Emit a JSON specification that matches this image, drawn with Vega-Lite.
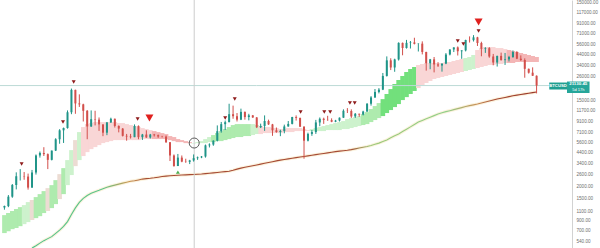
{
  "$schema": "https://vega.github.io/schema/vega-lite/v6.json",
  "width": 572,
  "height": 248,
  "autosize": "none",
  "padding": {"left": 0, "top": 0, "right": 28, "bottom": 0},
  "background": "#ffffff",
  "config": {"view": {"stroke": null}, "font": "Liberation Sans"},
  "datasets": {
    "weeks": [
      {"d":"2017-04-10","o":1208,"h":1265,"l":1150,"c":1250,"hi":1012,"lo":664,"t":"g2"},
      {"d":"2017-04-24","o":1250,"h":1620,"l":1220,"c":1560,"hi":1062,"lo":695,"t":"g2"},
      {"d":"2017-05-08","o":1560,"h":2100,"l":1520,"c":2050,"hi":1114,"lo":728,"t":"g2"},
      {"d":"2017-05-22","o":2050,"h":2760,"l":1850,"c":2520,"hi":1165,"lo":746,"t":"g2"},
      {"d":"2017-06-05","o":2520,"h":2980,"l":2280,"c":2520,"hi":1221,"lo":781,"t":"g2"},
      {"d":"2017-06-19","o":2520,"h":2780,"l":2320,"c":2500,"hi":1280,"lo":819,"t":"g1"},
      {"d":"2017-07-03","o":2500,"h":2680,"l":1840,"c":1930,"hi":1374,"lo":859,"t":"g1"},
      {"d":"2017-07-17","o":1930,"h":2920,"l":1920,"c":2750,"hi":1440,"lo":900,"t":"p","m":467},
      {"d":"2017-07-31","o":2750,"h":4200,"l":2620,"c":4100,"hi":1545,"lo":943,"t":"g2","m":494},
      {"d":"2017-08-14","o":4100,"h":4500,"l":3900,"c":4350,"hi":1656,"lo":988,"t":"g2","m":525},
      {"d":"2017-08-28","o":4350,"h":4980,"l":4050,"c":4230,"hi":1778,"lo":1062,"t":"g2","m":556},
      {"d":"2017-09-11","o":4230,"h":4300,"l":2980,"c":3700,"hi":1906,"lo":1114,"t":"p","m":583},
      {"d":"2017-09-25","o":3700,"h":4600,"l":3650,"c":4600,"hi":2045,"lo":1193,"t":"g2","m":611},
      {"d":"2017-10-09","o":4600,"h":6150,"l":4550,"c":6000,"hi":2300,"lo":1310,"t":"g2","m":659},
      {"d":"2017-10-23","o":6000,"h":7600,"l":5400,"c":7400,"hi":2648,"lo":1474,"t":"p","m":712},
      {"d":"2017-11-06","o":7400,"h":7890,"l":5500,"c":7800,"hi":3048,"lo":1656,"t":"g2","m":776},
      {"d":"2017-11-20","o":7800,"h":11800,"l":7700,"c":11300,"hi":3680,"lo":2045,"t":"g1","m":869},
      {"d":"2017-12-04","o":11300,"h":19700,"l":10800,"c":19100,"hi":4650,"lo":2590,"t":"g1","m":1025},
      {"d":"2017-12-18","o":19100,"h":19200,"l":10900,"c":13900,"hi":5880,"lo":3194,"t":"p","m":1200},
      {"d":"2018-01-01","o":13900,"h":17200,"l":12800,"c":13600,"hi":7098,"lo":3680,"t":"g1","m":1364},
      {"d":"2018-01-15","o":13600,"h":13800,"l":9100,"c":11700,"hi":7985,"lo":4044,"t":"r1","m":1499},
      {"d":"2018-01-29","o":11700,"h":11900,"l":6000,"c":8100,"hi":8563,"lo":4436,"t":"r1","m":1605},
      {"d":"2018-02-12","o":8100,"h":11800,"l":8000,"c":9600,"hi":8770,"lo":4759,"t":"r1","m":1688},
      {"d":"2018-02-26","o":9600,"h":11700,"l":8300,"c":9500,"hi":8977,"lo":4989,"t":"r1","m":1752},
      {"d":"2018-03-12","o":9500,"h":10000,"l":7300,"c":8500,"hi":8977,"lo":5230,"t":"r1","m":1812},
      {"d":"2018-03-26","o":8500,"h":8500,"l":6450,"c":7000,"hi":8977,"lo":5480,"t":"r1","m":1880},
      {"d":"2018-04-09","o":7000,"h":9000,"l":6600,"c":8900,"hi":8977,"lo":5610,"t":"r1","m":1946},
      {"d":"2018-04-23","o":8900,"h":9950,"l":8800,"c":9700,"hi":8977,"lo":5744,"t":"r1","m":1998},
      {"d":"2018-05-07","o":9700,"h":9750,"l":7900,"c":8200,"hi":8977,"lo":5880,"t":"r1","m":2045},
      {"d":"2018-05-21","o":8200,"h":8300,"l":7050,"c":7700,"hi":8770,"lo":5880,"t":"r1","m":2094},
      {"d":"2018-06-04","o":7700,"h":7800,"l":6400,"c":6500,"hi":8770,"lo":5880,"t":"r1","m":2143},
      {"d":"2018-06-18","o":6500,"h":6800,"l":5800,"c":6400,"hi":8563,"lo":5880,"t":"r1","m":2192},
      {"d":"2018-07-02","o":6400,"h":6800,"l":6100,"c":6300,"hi":8370,"lo":5880,"t":"r1","m":2238},
      {"d":"2018-07-16","o":6300,"h":8500,"l":6300,"c":8200,"hi":8176,"lo":5880,"t":"r1","m":2269},
      {"d":"2018-07-30","o":8200,"h":8300,"l":6000,"c":6300,"hi":7985,"lo":5880,"t":"r1","m":2311},
      {"d":"2018-08-13","o":6300,"h":6800,"l":5900,"c":6700,"hi":7801,"lo":6024,"t":"r1","m":2357},
      {"d":"2018-08-27","o":6700,"h":7400,"l":6200,"c":6250,"hi":7617,"lo":6024,"t":"r1","m":2380},
      {"d":"2018-09-10","o":6250,"h":6800,"l":6100,"c":6700,"hi":7440,"lo":6024,"t":"r1","m":2402},
      {"d":"2018-09-24","o":6700,"h":6800,"l":6400,"c":6600,"hi":7267,"lo":6024,"t":"r2","m":2430},
      {"d":"2018-10-08","o":6600,"h":6700,"l":6200,"c":6400,"hi":7098,"lo":6024,"t":"r2","m":2465},
      {"d":"2018-10-22","o":6400,"h":6500,"l":6250,"c":6380,"hi":6934,"lo":6024,"t":"r2","m":2500},
      {"d":"2018-11-05","o":6380,"h":6550,"l":5500,"c":5600,"hi":6774,"lo":6024,"t":"r2","m":2525},
      {"d":"2018-11-19","o":5600,"h":5600,"l":3600,"c":4100,"hi":6466,"lo":5880,"t":"r2","m":2547},
      {"d":"2018-12-03","o":4100,"h":4200,"l":3150,"c":3200,"hi":6315,"lo":5744,"t":"r2","m":2566},
      {"d":"2018-12-17","o":3200,"h":4250,"l":3200,"c":3900,"hi":6024,"lo":5610,"t":"r2","m":2578},
      {"d":"2018-12-31","o":3900,"h":4100,"l":3500,"c":3550,"hi":5880,"lo":5610,"t":"r2","m":2590},
      {"d":"2019-01-14","o":3550,"h":3800,"l":3450,"c":3530,"hi":5744,"lo":5480,"t":"r2","m":2602},
      {"d":"2019-01-28","o":3530,"h":3700,"l":3350,"c":3650,"hi":5610,"lo":5480,"t":"r2","m":2615},
      {"d":"2019-02-11","o":3650,"h":4200,"l":3550,"c":3850,"hi":5480,"lo":5420,"t":"g1","m":2627},
      {"d":"2019-02-25","o":3850,"h":4000,"l":3700,"c":3920,"hi":5610,"lo":5480,"t":"g1","m":2639},
      {"d":"2019-03-11","o":3920,"h":4050,"l":3850,"c":4000,"hi":5744,"lo":5480,"t":"g1","m":2652},
      {"d":"2019-03-25","o":4000,"h":5300,"l":3900,"c":5200,"hi":6024,"lo":5480,"t":"g1","m":2677},
      {"d":"2019-04-08","o":5200,"h":5450,"l":4950,"c":5300,"hi":6315,"lo":5610,"t":"g1","m":2702},
      {"d":"2019-04-22","o":5300,"h":5850,"l":5150,"c":5800,"hi":6620,"lo":5610,"t":"g2","m":2728},
      {"d":"2019-05-06","o":5800,"h":8300,"l":5700,"c":7250,"hi":6934,"lo":5744,"t":"g2","m":2754},
      {"d":"2019-05-20","o":7250,"h":9000,"l":7000,"c":8550,"hi":7267,"lo":5744,"t":"g2","m":2780},
      {"d":"2019-06-03","o":8550,"h":9300,"l":7450,"c":8950,"hi":7617,"lo":5880,"t":"g2","m":2806},
      {"d":"2019-06-17","o":8950,"h":13800,"l":8950,"c":10800,"hi":7985,"lo":6024,"t":"g2","m":2833},
      {"d":"2019-07-01","o":10800,"h":13200,"l":9700,"c":10300,"hi":8370,"lo":6170,"t":"g2","m":2896},
      {"d":"2019-07-15","o":10300,"h":11100,"l":9100,"c":9500,"hi":8563,"lo":6315,"t":"g2","m":2976},
      {"d":"2019-07-29","o":9500,"h":12300,"l":9400,"c":11400,"hi":8563,"lo":6315,"t":"g2","m":3047},
      {"d":"2019-08-12","o":11400,"h":11500,"l":9500,"c":10100,"hi":8563,"lo":6466,"t":"g2","m":3106},
      {"d":"2019-08-26","o":10100,"h":10900,"l":9350,"c":10500,"hi":8563,"lo":6466,"t":"g2","m":3165},
      {"d":"2019-09-09","o":10500,"h":10600,"l":9900,"c":10000,"hi":8563,"lo":6620,"t":"g1","m":3224},
      {"d":"2019-09-23","o":10000,"h":10100,"l":7800,"c":7950,"hi":8370,"lo":6774,"t":"g1","m":3285},
      {"d":"2019-10-07","o":7950,"h":8650,"l":7800,"c":8200,"hi":8176,"lo":6774,"t":"r1","m":3348},
      {"d":"2019-10-21","o":8200,"h":10500,"l":7300,"c":9200,"hi":7985,"lo":6934,"t":"r1","m":3412},
      {"d":"2019-11-04","o":9200,"h":9500,"l":8400,"c":8500,"hi":7985,"lo":6934,"t":"r1","m":3477},
      {"d":"2019-11-18","o":8500,"h":8600,"l":6500,"c":7400,"hi":7801,"lo":6934,"t":"r1","m":3544},
      {"d":"2019-12-02","o":7400,"h":7900,"l":7000,"c":7100,"hi":7801,"lo":6934,"t":"r1","m":3612},
      {"d":"2019-12-16","o":7100,"h":7500,"l":6450,"c":7300,"hi":7617,"lo":6934,"t":"r1","m":3680},
      {"d":"2019-12-30","o":7300,"h":8450,"l":6900,"c":8100,"hi":7617,"lo":7098,"t":"r1","m":3733},
      {"d":"2020-01-13","o":8100,"h":9200,"l":8050,"c":8600,"hi":7801,"lo":7098,"t":"r1","m":3787},
      {"d":"2020-01-27","o":8600,"h":10150,"l":8500,"c":10100,"hi":7801,"lo":7098,"t":"r1","m":3841},
      {"d":"2020-02-10","o":10100,"h":10500,"l":9300,"c":9900,"hi":7801,"lo":7267,"t":"r1","m":3896},
      {"d":"2020-02-24","o":9900,"h":9950,"l":8000,"c":8050,"hi":7801,"lo":7267,"t":"r1","m":3952},
      {"d":"2020-03-09","o":8050,"h":8150,"l":3800,"c":5800,"hi":7617,"lo":7267,"t":"r1","m":4009},
      {"d":"2020-03-23","o":5800,"h":7000,"l":5700,"c":6800,"hi":7440,"lo":7267,"t":"r1","m":4066},
      {"d":"2020-04-06","o":6800,"h":7450,"l":6500,"c":7100,"hi":7617,"lo":7267,"t":"g1","m":4125},
      {"d":"2020-04-20","o":7100,"h":9450,"l":6800,"c":8900,"hi":7801,"lo":7267,"t":"g1","m":4184},
      {"d":"2020-05-04","o":8900,"h":10000,"l":8150,"c":9700,"hi":7985,"lo":7267,"t":"g1","m":4240},
      {"d":"2020-05-18","o":9700,"h":9950,"l":8600,"c":9450,"hi":8176,"lo":7267,"t":"g1","m":4300},
      {"d":"2020-06-01","o":9450,"h":10400,"l":9250,"c":9400,"hi":8370,"lo":7440,"t":"g1","m":4362},
      {"d":"2020-06-15","o":9400,"h":9800,"l":8950,"c":9050,"hi":8563,"lo":7440,"t":"g1","m":4425},
      {"d":"2020-06-29","o":9050,"h":9450,"l":8950,"c":9300,"hi":8770,"lo":7440,"t":"g1","m":4488},
      {"d":"2020-07-13","o":9300,"h":10000,"l":9100,"c":9950,"hi":8977,"lo":7440,"t":"g1","m":4542},
      {"d":"2020-07-27","o":9950,"h":12100,"l":9900,"c":11700,"hi":9190,"lo":7617,"t":"g1","m":4585},
      {"d":"2020-08-10","o":11700,"h":12450,"l":11100,"c":11650,"hi":9628,"lo":7617,"t":"g1","m":4628},
      {"d":"2020-08-24","o":11650,"h":12100,"l":9900,"c":10250,"hi":9861,"lo":7801,"t":"g1","m":4700},
      {"d":"2020-09-07","o":10250,"h":11100,"l":9900,"c":10900,"hi":10090,"lo":7985,"t":"g1","m":4787},
      {"d":"2020-09-21","o":10900,"h":10950,"l":10150,"c":10700,"hi":10335,"lo":8176,"t":"g1","m":4877},
      {"d":"2020-10-05","o":10700,"h":11700,"l":10500,"c":11500,"hi":10830,"lo":8370,"t":"g2","m":4970},
      {"d":"2020-10-19","o":11500,"h":14000,"l":11400,"c":13800,"hi":11350,"lo":8563,"t":"g2","m":5063},
      {"d":"2020-11-02","o":13800,"h":16500,"l":13200,"c":16000,"hi":12180,"lo":8977,"t":"g2","m":5180},
      {"d":"2020-11-16","o":16000,"h":19500,"l":15800,"c":18200,"hi":13070,"lo":9410,"t":"g2","m":5330},
      {"d":"2020-11-30","o":18200,"h":19900,"l":17600,"c":19200,"hi":14020,"lo":9861,"t":"g2","m":5480},
      {"d":"2020-12-14","o":19200,"h":28400,"l":19000,"c":26500,"hi":15380,"lo":10335,"t":"g3","m":5690},
      {"d":"2020-12-28","o":26500,"h":41900,"l":26100,"c":38200,"hi":17340,"lo":11090,"t":"g3","m":5910},
      {"d":"2021-01-11","o":38200,"h":40100,"l":30400,"c":32300,"hi":19470,"lo":11900,"t":"g3","m":6213},
      {"d":"2021-01-25","o":32300,"h":39700,"l":29200,"c":39000,"hi":21930,"lo":12760,"t":"g3","m":6497},
      {"d":"2021-02-08","o":39000,"h":58300,"l":38000,"c":57500,"hi":24100,"lo":13690,"t":"g3","m":6780},
      {"d":"2021-02-22","o":57500,"h":58000,"l":43000,"c":51000,"hi":26470,"lo":15040,"t":"g3","m":7180},
      {"d":"2021-03-08","o":51000,"h":61700,"l":50300,"c":57600,"hi":29050,"lo":16120,"t":"g3","m":7580},
      {"d":"2021-03-22","o":57600,"h":60100,"l":50400,"c":58200,"hi":31170,"lo":17340,"t":"g3","m":8020},
      {"d":"2021-04-05","o":58200,"h":64900,"l":55500,"c":56200,"hi":32680,"lo":18610,"t":"g3","m":8490},
      {"d":"2021-04-19","o":56200,"h":57000,"l":47000,"c":56500,"hi":34250,"lo":19940,"t":"r1","m":8977},
      {"d":"2021-05-03","o":56500,"h":59600,"l":43900,"c":46500,"hi":35050,"lo":21400,"t":"r1","m":9320},
      {"d":"2021-05-17","o":46500,"h":46700,"l":30000,"c":35700,"hi":35900,"lo":22460,"t":"r1","m":9680},
      {"d":"2021-05-31","o":35700,"h":39500,"l":31000,"c":39100,"hi":35900,"lo":23540,"t":"r1","m":10060},
      {"d":"2021-06-14","o":39100,"h":41300,"l":28800,"c":34700,"hi":35900,"lo":24660,"t":"r1","m":10440},
      {"d":"2021-06-28","o":34700,"h":36600,"l":32700,"c":33800,"hi":35900,"lo":25260,"t":"r1","m":10830},
      {"d":"2021-07-12","o":33800,"h":35400,"l":29300,"c":35400,"hi":35900,"lo":25850,"t":"r1","m":11150},
      {"d":"2021-07-26","o":35400,"h":45300,"l":34900,"c":43800,"hi":36730,"lo":26470,"t":"r1","m":11470},
      {"d":"2021-08-09","o":43800,"h":49400,"l":42900,"c":49300,"hi":36730,"lo":27100,"t":"r1","m":11730},
      {"d":"2021-08-23","o":49300,"h":51800,"l":46400,"c":51750,"hi":37610,"lo":27710,"t":"r1","m":12020},
      {"d":"2021-09-06","o":51750,"h":52900,"l":42800,"c":47300,"hi":38500,"lo":28380,"t":"r1","m":12310},
      {"d":"2021-09-20","o":47300,"h":48400,"l":39600,"c":48200,"hi":39400,"lo":29050,"t":"r1","m":12600},
      {"d":"2021-10-04","o":48200,"h":62000,"l":47100,"c":61500,"hi":40350,"lo":29740,"t":"g1","m":12910},
      {"d":"2021-10-18","o":61500,"h":67000,"l":58000,"c":61300,"hi":41310,"lo":30450,"t":"g1","m":13200},
      {"d":"2021-11-01","o":61300,"h":69000,"l":59400,"c":65500,"hi":43300,"lo":31170,"t":"g1","m":13450},
      {"d":"2021-11-15","o":65500,"h":66300,"l":53500,"c":57300,"hi":48700,"lo":31920,"t":"r1","m":13700},
      {"d":"2021-11-29","o":57300,"h":59100,"l":42000,"c":50100,"hi":50980,"lo":32680,"t":"r1","m":14020},
      {"d":"2021-12-13","o":50100,"h":52000,"l":45500,"c":50800,"hi":52180,"lo":33460,"t":"r1","m":14360},
      {"d":"2021-12-27","o":50800,"h":52100,"l":40600,"c":41800,"hi":52180,"lo":34250,"t":"r1","m":14700},
      {"d":"2022-01-10","o":41800,"h":44400,"l":34000,"c":36300,"hi":52180,"lo":34250,"t":"r1","m":15040},
      {"d":"2022-01-24","o":36300,"h":42600,"l":33000,"c":42400,"hi":50980,"lo":35050,"t":"r1","m":15400},
      {"d":"2022-02-07","o":42400,"h":45800,"l":38000,"c":38400,"hi":50980,"lo":35050,"t":"r1","m":15700},
      {"d":"2022-02-21","o":38400,"h":45400,"l":34300,"c":39100,"hi":49780,"lo":35900,"t":"r1","m":16000},
      {"d":"2022-03-07","o":39100,"h":42400,"l":37200,"c":41300,"hi":48700,"lo":35900,"t":"r2","m":16310},
      {"d":"2022-03-21","o":41300,"h":48200,"l":40500,"c":46400,"hi":47570,"lo":35900,"t":"r2","m":16620},
      {"d":"2022-04-04","o":46400,"h":47400,"l":39300,"c":39700,"hi":46460,"lo":36730,"t":"r2","m":16900},
      {"d":"2022-04-18","o":39700,"h":42900,"l":37700,"c":38500,"hi":45380,"lo":36730,"t":"r2","m":17150},
      {"d":"2022-05-02","o":38500,"h":40000,"l":25400,"c":31300,"hi":44320,"lo":36730,"t":"r2","m":17400},
      {"d":"2022-05-16","o":31300,"h":31500,"l":28000,"c":28600,"hi":43300,"lo":36730,"t":"r2","m":17640},
      {"d":"2022-05-30","o":28600,"h":32400,"l":26500,"c":26600,"hi":42300,"lo":36730,"t":"r2","m":17900},
      {"d":"2022-06-13","o":26600,"h":26800,"l":17600,"c":21130.45,"hi":41310,"lo":36730,"t":"r2","m":18160}
    ],
    "signals": [
      {"d":"2017-06-10","v":3350,"k":"s"},
      {"d":"2017-11-04","v":8980,"k":"s"},
      {"d":"2017-12-12","v":23000,"k":"s"},
      {"d":"2018-07-27","v":9640,"k":"s"},
      {"d":"2018-09-07","v":9860,"k":"b"},
      {"d":"2018-12-17","v":2775,"k":"u"},
      {"d":"2019-06-03","v":9860,"k":"s"},
      {"d":"2019-07-07","v":15400,"k":"s"},
      {"d":"2020-02-26","v":11350,"k":"s"},
      {"d":"2020-05-20","v":11350,"k":"s"},
      {"d":"2020-06-10","v":11350,"k":"s"},
      {"d":"2020-08-19","v":14010,"k":"s"},
      {"d":"2020-09-05","v":14010,"k":"s"},
      {"d":"2021-09-06","v":60200,"k":"s"},
      {"d":"2021-09-26","v":56000,"k":"s"},
      {"d":"2021-11-19","v":76000,"k":"s"},
      {"d":"2021-11-19","v":94000,"k":"b"}
    ]
  },
  "layer": [
    {
      "data": {"name": "weeks"},
      "mark": {"type": "bar", "size": 4.6},
      "encoding": {
        "x": {"field": "d", "type": "temporal", "axis": null,
              "scale": {"domain": [{"year": 2017, "month": 4, "date": 12, "utc": true}, {"year": 2022, "month": 9, "date": 29, "utc": true}]}},
        "y": {"field": "hi", "type": "quantitative", "title": null,
              "scale": {"type": "log", "domain": [468, 157300], "nice": false, "zero": false},
              "axis": {"orient": "right", "values": [540, 700, 900, 1100, 1500, 2000, 2600, 3400, 4400, 5600, 7100, 9100, 11700, 15000, 26000, 34000, 44000, 56000, 71000, 91000, 117000, 150000],
                       "format": ".2f", "labelFontSize": 4.6, "labelColor": "#6e6e6e", "ticks": false, "grid": false,
                       "domainColor": "#d2d2d2", "labelPadding": 4, "labelOverlap": false, "labelFont": "Liberation Sans"}},
        "y2": {"field": "lo"},
        "color": {"field": "t", "type": "nominal", "legend": null,
                  "scale": {"domain": ["g1", "g2", "g3", "p", "r1", "r2"],
                            "range": ["#cdf2cd", "#aeebae", "#72e07c", "#ecdcd3", "#f9d6d6", "#f4b6b6"]}}
      }
    },
    {
      "data": {"name": "weeks"},
      "transform": [{"filter": "isValid(datum.m)"}],
      "mark": {"type": "line", "strokeWidth": 3.2, "opacity": 0.3, "color": "#f3d58e", "clip": true},
      "encoding": {
        "x": {"field": "d", "type": "temporal"},
        "y": {"field": "m", "type": "quantitative", "title": null}
      }
    },
    {
      "data": {"name": "weeks"},
      "transform": [{"filter": "isValid(datum.m)"}],
      "mark": {"type": "line", "strokeWidth": 1.1, "clip": true,
               "color": {"gradient": "linear", "x1": 0, "y1": 0, "x2": 1, "y2": 0,
                         "stops": [
                           {"offset": 0, "color": "#4fc28a"},
                           {"offset": 0.14, "color": "#5cc58a"},
                           {"offset": 0.19, "color": "#c99a55"},
                           {"offset": 0.23, "color": "#a64b34"},
                           {"offset": 0.63, "color": "#a64b34"},
                           {"offset": 0.67, "color": "#9cc878"},
                           {"offset": 0.82, "color": "#8fd08a"},
                           {"offset": 0.88, "color": "#c8925a"},
                           {"offset": 0.92, "color": "#a3452f"},
                           {"offset": 1, "color": "#9c3a2c"}
                         ]}},
      "encoding": {
        "x": {"field": "d", "type": "temporal"},
        "y": {"field": "m", "type": "quantitative", "title": null}
      }
    },
    {
      "data": {"values": [{}]},
      "mark": {"type": "rule", "color": "#bcdad6", "strokeWidth": 1},
      "encoding": {"y": {"datum": 21130.45, "type": "quantitative"}}
    },
    {
      "data": {"values": [{}]},
      "mark": {"type": "rule", "color": "#cdcdcd", "strokeWidth": 1},
      "encoding": {"x": {"datum": {"year": 2019, "month": 2, "date": 13, "utc": true}, "type": "temporal"}}
    },
    {
      "data": {"name": "weeks"},
      "mark": {"type": "rule", "strokeWidth": 1},
      "encoding": {
        "x": {"field": "d", "type": "temporal"},
        "y": {"field": "l", "type": "quantitative", "title": null},
        "y2": {"field": "h"},
        "color": {"condition": {"test": "datum.c >= datum.o", "value": "#1f9488"}, "value": "#d24f4b"}
      }
    },
    {
      "data": {"name": "weeks"},
      "mark": {"type": "bar", "size": 2},
      "encoding": {
        "x": {"field": "d", "type": "temporal"},
        "y": {"field": "o", "type": "quantitative", "title": null},
        "y2": {"field": "c"},
        "color": {"condition": {"test": "datum.c >= datum.o", "value": "#1f9488"}, "value": "#d24f4b"}
      }
    },
    {
      "data": {"name": "signals"},
      "transform": [{"filter": "datum.k === 's'"}],
      "mark": {"type": "point", "shape": "triangle-down", "filled": true, "size": 16, "color": "#8e1b1b", "opacity": 1},
      "encoding": {
        "x": {"field": "d", "type": "temporal"},
        "y": {"field": "v", "type": "quantitative", "title": null}
      }
    },
    {
      "data": {"name": "signals"},
      "transform": [{"filter": "datum.k === 'b'"}],
      "mark": {"type": "point", "shape": "triangle-down", "filled": true, "size": 64, "color": "#e0201e", "opacity": 1},
      "encoding": {
        "x": {"field": "d", "type": "temporal"},
        "y": {"field": "v", "type": "quantitative", "title": null}
      }
    },
    {
      "data": {"name": "signals"},
      "transform": [{"filter": "datum.k === 'u'"}],
      "mark": {"type": "point", "shape": "triangle-up", "filled": true, "size": 16, "color": "#4caf50", "opacity": 1},
      "encoding": {
        "x": {"field": "d", "type": "temporal"},
        "y": {"field": "v", "type": "quantitative", "title": null}
      }
    },
    {
      "data": {"values": [{}]},
      "mark": {"type": "point", "shape": "circle", "filled": false, "size": 100, "stroke": "#5a5a5a", "strokeWidth": 1, "opacity": 1},
      "encoding": {
        "x": {"datum": {"year": 2019, "month": 2, "date": 13, "utc": true}, "type": "temporal"},
        "y": {"datum": 5490, "type": "quantitative"}
      }
    },
    {
      "data": {"values": [{}]},
      "mark": {"type": "rect", "color": "#1f9e90"},
      "encoding": {
        "x": {"datum": {"year": 2022, "month": 7, "date": 28, "utc": true}, "type": "temporal"},
        "x2": {"datum": {"year": 2022, "month": 9, "date": 29, "utc": true}},
        "y": {"datum": 22700, "type": "quantitative"},
        "y2": {"datum": 19270}
      }
    },
    {
      "data": {"values": [{}]},
      "mark": {"type": "rect", "color": "#26a69a"},
      "encoding": {
        "x": {"datum": {"year": 2022, "month": 9, "date": 29, "utc": true}, "type": "temporal"},
        "x2": {"datum": {"year": 2022, "month": 12, "date": 18, "utc": true}},
        "y": {"datum": 23230, "type": "quantitative"},
        "y2": {"datum": 17760}
      }
    },
    {
      "data": {"values": [{}]},
      "mark": {"type": "text", "text": "BTCUSD", "fontSize": 4.2, "fontWeight": "bold", "color": "#ffffff", "align": "center", "baseline": "middle"},
      "encoding": {
        "x": {"datum": {"year": 2022, "month": 8, "date": 28, "utc": true}, "type": "temporal"},
        "y": {"datum": 20900, "type": "quantitative"}
      }
    },
    {
      "data": {"values": [{}]},
      "mark": {"type": "text", "text": "21130.45", "fontSize": 4.4, "fontWeight": "bold", "color": "#ffffff", "align": "center", "baseline": "middle"},
      "encoding": {
        "x": {"datum": {"year": 2022, "month": 11, "date": 8, "utc": true}, "type": "temporal"},
        "y": {"datum": 21700, "type": "quantitative"}
      }
    },
    {
      "data": {"values": [{}]},
      "mark": {"type": "text", "text": "5d 17h", "fontSize": 4, "color": "#ffffff", "align": "center", "baseline": "middle"},
      "encoding": {
        "x": {"datum": {"year": 2022, "month": 11, "date": 8, "utc": true}, "type": "temporal"},
        "y": {"datum": 19050, "type": "quantitative"}
      }
    }
  ]
}
